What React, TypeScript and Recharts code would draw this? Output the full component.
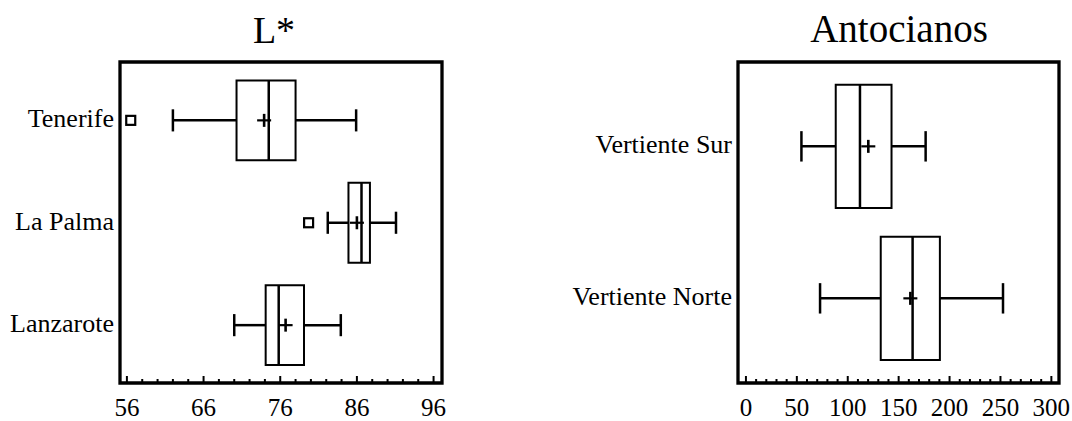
import React from "react";
import {
  ScatterChart,
  Scatter,
  XAxis,
  YAxis,
  ReferenceArea,
  ReferenceLine,
} from "recharts";

const FONT = "'Liberation Serif', 'Times New Roman', serif";

// L* by island
const islands = ["Tenerife", "La Palma", "Lanzarote"];
const lWhiskerLow = [62.0, 82.2, 70.0];
const lQ1 = [70.3, 84.9, 74.1];
const lMedian = [74.5, 86.6, 75.8];
const lQ3 = [78.0, 87.7, 79.1];
const lWhiskerHigh = [85.9, 91.1, 83.9];
const lMean = [73.9, 86.0, 76.7];
const lOutliers = [[56.5], [79.7], []];
const lTicks = [56, 66, 76, 86, 96];

// Antocianos by slope
const slopes = ["Vertiente Sur", "Vertiente Norte"];
const aWhiskerLow = [54.5, 72.8];
const aQ1 = [88.2, 132.4];
const aMedian = [112, 163.7];
const aQ3 = [143, 190.5];
const aWhiskerHigh = [176.5, 252.5];
const aMean = [120.2, 161.5];
const aOutliers: number[][] = [[], []];
const aTicks = [0, 50, 100, 150, 200, 250, 300];

const PlusShape = (props: any) => {
  const { cx, cy } = props;
  return (
    <g stroke="#000">
      <line x1={cx - 7} x2={cx + 7} y1={cy} y2={cy} strokeWidth={2.2} />
      <line x1={cx} x2={cx} y1={cy - 6.5} y2={cy + 6.5} strokeWidth={2.6} />
    </g>
  );
};

const SquareShape = (props: any) => {
  const { cx, cy } = props;
  return (
    <rect x={cx - 4.5} y={cy - 4.5} width={9} height={9} fill="none" stroke="#000" strokeWidth={2.2} />
  );
};

type PanelProps = {
  cats: string[];
  low: number[];
  q1: number[];
  med: number[];
  q3: number[];
  high: number[];
  mean: number[];
  outliers: number[][];
  ticks: number[];
  step: number;
  domain: [number, number];
  yDomain: [number, number];
  width: number;
  yWidth: number;
  rightMargin: number;
  boxHalf: number;
  capHalf: number;
};

function BoxPanel(p: PanelProps) {
  const minor: number[] = [];
  const last = p.ticks[p.ticks.length - 1];
  for (let v = p.ticks[0]; v <= last + 1e-9; v += p.step) minor.push(+v.toFixed(4));

  const meanData = p.mean.map((m, i) => ({ x: m, y: i }));
  const outlierData = p.outliers.flatMap((arr, i) => arr.map((v) => ({ x: v, y: i })));

  const bottomTick = (t: any) => {
    const major = p.ticks.includes(t.payload.value);
    return (
      <g>
        <line x1={t.x} x2={t.x} y1={t.y} y2={t.y - (major ? 7 : 4)} stroke="#000" strokeWidth={2} />
        {major && (
          <text x={t.x} y={t.y + 33} textAnchor="middle" fontSize={25} fontFamily={FONT} fill="#000">
            {t.payload.value}
          </text>
        )}
      </g>
    );
  };
  const topTick = (t: any) => {
    const major = p.ticks.includes(t.payload.value);
    return <line x1={t.x} x2={t.x} y1={t.y} y2={t.y + (major ? 7 : 4)} stroke="#000" strokeWidth={2} />;
  };
  const yTick = (t: any) => (
    <text x={t.x} y={t.y + 7} textAnchor="end" fontSize={26} fontFamily={FONT} fill="#000">
      {p.cats[t.payload.value]}
    </text>
  );

  const stroke = "#000";
  const marks: React.ReactNode[] = [];
  p.cats.forEach((_, i) => {
    marks.push(
      <ReferenceLine key={`wl${i}`} segment={[{ x: p.low[i], y: i }, { x: p.q1[i], y: i }]} stroke={stroke} strokeWidth={2.5} ifOverflow="visible" />,
      <ReferenceLine key={`wh${i}`} segment={[{ x: p.q3[i], y: i }, { x: p.high[i], y: i }]} stroke={stroke} strokeWidth={2.5} ifOverflow="visible" />,
      <ReferenceLine key={`cl${i}`} segment={[{ x: p.low[i], y: i - p.capHalf }, { x: p.low[i], y: i + p.capHalf }]} stroke={stroke} strokeWidth={2.5} ifOverflow="visible" />,
      <ReferenceLine key={`ch${i}`} segment={[{ x: p.high[i], y: i - p.capHalf }, { x: p.high[i], y: i + p.capHalf }]} stroke={stroke} strokeWidth={2.5} ifOverflow="visible" />,
      <ReferenceArea key={`box${i}`} x1={p.q1[i]} x2={p.q3[i]} y1={i - p.boxHalf} y2={i + p.boxHalf} fill="none" fillOpacity={0} stroke={stroke} strokeWidth={2} strokeOpacity={1} ifOverflow="visible" />,
      <ReferenceLine key={`md${i}`} segment={[{ x: p.med[i], y: i - p.boxHalf }, { x: p.med[i], y: i + p.boxHalf }]} stroke={stroke} strokeWidth={2.5} ifOverflow="visible" />
    );
  });

  return (
    <ScatterChart width={p.width} height={421} margin={{ top: 62, right: p.rightMargin, bottom: 0, left: 0 }}>
      <XAxis
        type="number"
        dataKey="x"
        domain={p.domain}
        allowDataOverflow
        ticks={minor}
        interval={0}
        height={38}
        tickSize={0}
        tickMargin={0}
        axisLine={false}
        tickLine={false}
        tick={bottomTick}
      />
      <XAxis
        xAxisId="top"
        orientation="top"
        type="number"
        domain={p.domain}
        allowDataOverflow
        ticks={minor}
        interval={0}
        height={0}
        tickSize={0}
        tickMargin={0}
        axisLine={false}
        tickLine={false}
        tick={topTick}
      />
      <YAxis
        type="number"
        dataKey="y"
        domain={p.yDomain}
        allowDataOverflow
        reversed
        ticks={p.cats.map((_, i) => i)}
        interval={0}
        width={p.yWidth}
        tickSize={0}
        tickMargin={6}
        axisLine={false}
        tickLine={false}
        tick={yTick}
      />
      <ReferenceArea
        x1={p.domain[0]}
        x2={p.domain[1]}
        y1={p.yDomain[0]}
        y2={p.yDomain[1]}
        fill="none"
        fillOpacity={0}
        stroke="#000"
        strokeWidth={3.3}
        strokeOpacity={1}
        ifOverflow="visible"
      />
      {marks}
      <Scatter data={outlierData} shape={SquareShape} isAnimationActive={false} />
      <Scatter data={meanData} shape={PlusShape} isAnimationActive={false} />
    </ScatterChart>
  );
}

export default function App() {
  return (
    <div style={{ position: "absolute", left: 0, top: 0, width: 1072, height: 421, background: "#fff" }}>
      <div style={{ position: "absolute", left: 0, top: 0 }}>
        <BoxPanel
          cats={islands}
          low={lWhiskerLow}
          q1={lQ1}
          med={lMedian}
          q3={lQ3}
          high={lWhiskerHigh}
          mean={lMean}
          outliers={lOutliers}
          ticks={lTicks}
          step={2}
          domain={[55.1, 97.1]}
          yDomain={[-0.57, 2.565]}
          width={460}
          yWidth={120}
          rightMargin={18}
          boxHalf={0.39}
          capHalf={0.108}
        />
      </div>
      <div style={{ position: "absolute", left: 560, top: 0 }}>
        <BoxPanel
          cats={slopes}
          low={aWhiskerLow}
          q1={aQ1}
          med={aMedian}
          q3={aQ3}
          high={aWhiskerHigh}
          mean={aMean}
          outliers={aOutliers}
          ticks={aTicks}
          step={10}
          domain={[-7.8, 307.5]}
          yDomain={[-0.555, 1.557]}
          width={512}
          yWidth={178}
          rightMargin={13}
          boxHalf={0.405}
          capHalf={0.1}
        />
      </div>
      <svg width={1072} height={421} style={{ position: "absolute", left: 0, top: 0, pointerEvents: "none" }}>
        <text x={274} y={43} textAnchor="middle" fontSize={38} fontFamily={FONT} fill="#000">
          L*
        </text>
        <text x={899} y={42} textAnchor="middle" fontSize={39} fontFamily={FONT} fill="#000">
          Antocianos
        </text>
      </svg>
    </div>
  );
}
